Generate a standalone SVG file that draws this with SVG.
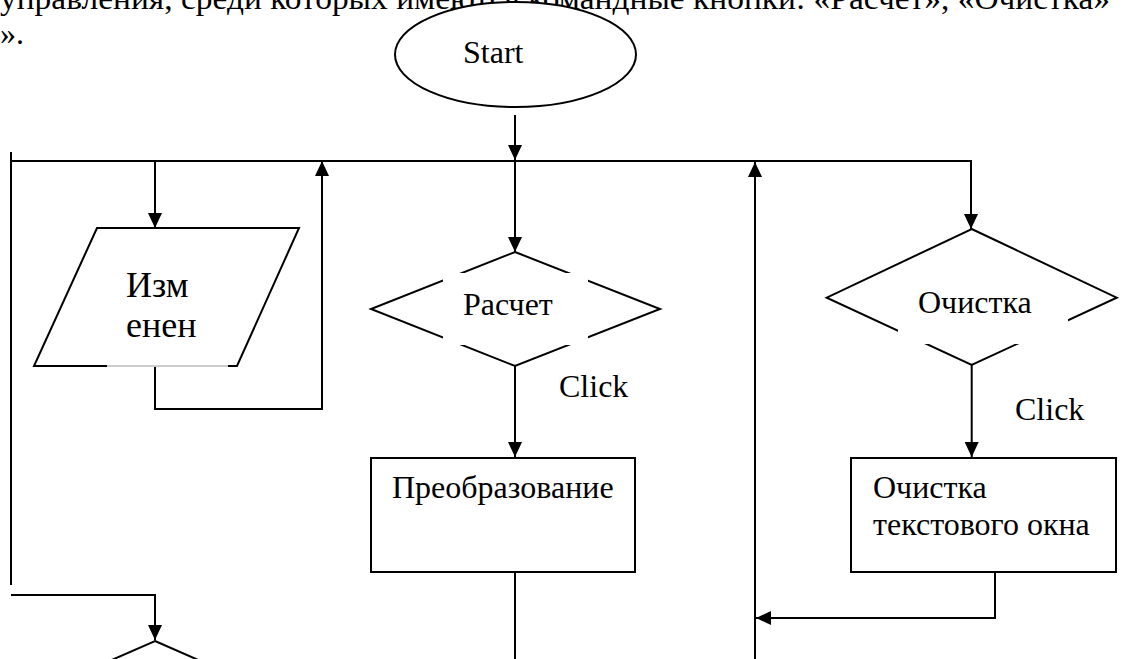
<svg xmlns="http://www.w3.org/2000/svg" width="1123" height="659" viewBox="0 0 1123 659">
<defs>
<marker id="arr" viewBox="0 0 15 14" refX="15" refY="7" markerWidth="15" markerHeight="14" markerUnits="userSpaceOnUse" orient="auto">
<path d="M0,0 L15,7 L0,14 z" fill="#000"/>
</marker>
<style>
text{font-family:"Liberation Serif","Times New Roman",serif;font-size:32px;fill:#000}
.shape{fill:#fff;stroke:#000;stroke-width:2}
.conn path{fill:none;stroke:#000;stroke-width:2}
.mask{fill:#fff;stroke:none}
</style>
</defs>
<rect width="1123" height="659" fill="#fff"/>
<g id="page-text">
<text x="0" y="9" textLength="1110" lengthAdjust="spacingAndGlyphs">управления, среди которых имеются командные кнопки: «Расчет», «Очистка»</text>
<text x="0" y="44">».</text>
</g>
<g id="start">
<ellipse class="shape" cx="515.5" cy="54.5" rx="120.5" ry="52.5"/>
<text x="463" y="63">Start</text>
</g>
<g class="conn" id="connectors">
<path d="M515,115 V160" marker-end="url(#arr)"/>
<path d="M11,161 H971 V229" marker-end="url(#arr)"/>
<path d="M11,152 V585"/>
<path d="M11,595 H155 V640" marker-end="url(#arr)"/>
<path d="M155,161 V228" marker-end="url(#arr)"/>
<path d="M155,366 V409 H322 V161" marker-end="url(#arr)"/>
<path d="M515,161 V252" marker-end="url(#arr)"/>
<path d="M515,366 V457" marker-end="url(#arr)"/>
<path d="M515,572 V659"/>
<path d="M755,659 V162" marker-end="url(#arr)"/>
<path d="M971.7,365 V457" marker-end="url(#arr)"/>
<path d="M995,572 V618 H756" marker-end="url(#arr)"/>
</g>
<g id="input-izmenen">
<polygon class="shape" points="97,228 299,228 237,366 34,366"/>
<line x1="107" y1="366" x2="228" y2="366" stroke="#fff" stroke-width="2.2"/>
<line x1="107" y1="366" x2="228" y2="366" stroke="#999" stroke-width="1.2"/>
<text x="126" y="297" style="font-size:36px">Изм</text>
<text x="126" y="337" style="font-size:36px">енен</text>
</g>
<g id="decision-raschet">
<polygon class="shape" points="515,252 660,309 515,366 371,309"/>
<rect class="mask" x="443" y="273" width="145" height="72"/>
<text x="463" y="315">Расчет</text>
</g>
<text x="559" y="397">Click</text>
<g id="process-preobrazovanie">
<rect class="shape" x="371" y="458" width="264" height="114"/>
<text x="392" y="498">Преобразование</text>
</g>
<g id="decision-ochistka">
<polygon class="shape" points="971.7,229 1116.7,297.7 971.7,365 826.7,297.7"/>
<rect class="mask" x="898" y="277" width="170" height="67"/>
<text x="918" y="313">Очистка</text>
</g>
<text x="1015" y="420">Click</text>
<g id="process-ochistka">
<rect class="shape" x="851" y="458" width="265" height="114"/>
<text x="873" y="498">Очистка</text>
<text x="873" y="535">текстового окна</text>
</g>
<g id="decision-bottom">
<polygon class="shape" points="155,641 285,698 155,755 25,698"/>
</g>
</svg>
